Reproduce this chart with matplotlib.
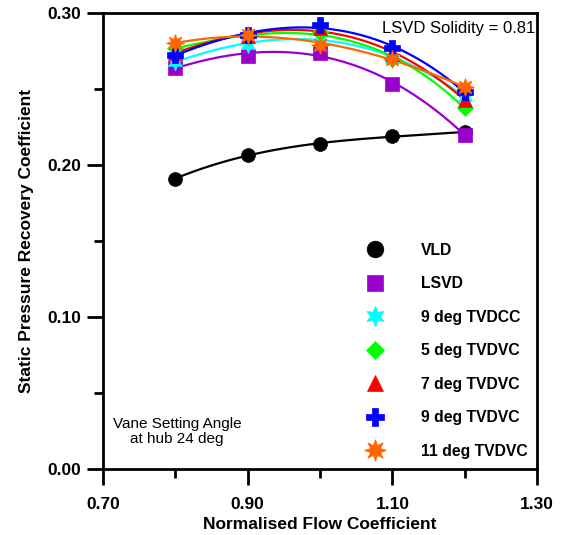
import numpy as np
import matplotlib.pyplot as plt
from matplotlib.ticker import FixedLocator

plt.rcParams["font.family"] = ["Liberation Sans", "DejaVu Sans"]

flow = [0.8, 0.9, 1.0, 1.1, 1.2]

vld = [0.191, 0.2066, 0.2138, 0.219, 0.2217]
lsvd = [0.264, 0.272, 0.274, 0.253, 0.220]
tvdcc_9 = [0.268, 0.279, 0.284, 0.270, 0.245]
tvdvc_5 = [0.277, 0.284, 0.2875, 0.270, 0.2375]
tvdvc_7 = [0.274, 0.285, 0.290, 0.273, 0.243]
tvdvc_9 = [0.2724, 0.2855, 0.292, 0.277, 0.248]
tvdvc_11 = [0.280, 0.2855, 0.279, 0.270, 0.251]

labels = ["VLD", "LSVD", "9 deg TVDCC", "5 deg TVDVC",
          "7 deg TVDVC", "9 deg TVDVC", "11 deg TVDVC"]

x_major = [0.70, 0.90, 1.10, 1.30]
x_minor = [0.80, 1.00, 1.20]
y_major = [0.00, 0.10, 0.20, 0.30]
y_minor = [0.05, 0.15, 0.25]

SERIES = [
    (vld, "black", "o", 10),
    (lsvd, "#9900cc", "s", 10),
    (tvdcc_9, "#00ffff", (6, 1, 0), 12),
    (tvdvc_5, "#00ff00", "D", 8),
    (tvdvc_7, "#ff0000", "^", 10),
    (tvdvc_9, "#0000ff", "P", 11),
    (tvdvc_11, "#ff6600", (8, 1, 0), 13),
]

fig = plt.figure(figsize=(5.63, 5.35), dpi=100)
ax = fig.add_axes([0.183, 0.1234, 0.771, 0.8523])

x = np.array(flow)
xs = np.linspace(0.8, 1.2, 200)
handles = []
for (vals, color, marker, ms), label in zip(SERIES, labels):
    # smooth fitted curve through the measured points
    coef = np.polyfit(x, vals, 3)
    ax.plot(xs, np.polyval(coef, xs), color=color, linewidth=1.6, zorder=2)
    h, = ax.plot(x, vals, linestyle="none", marker=marker, markersize=ms,
                 color=color, markeredgecolor=color, markeredgewidth=0.5,
                 zorder=3, label=label)
    handles.append(h)

ax.set_xlim(0.70, 1.30)
ax.set_ylim(0.0, 0.30)
ax.xaxis.set_major_locator(FixedLocator(x_major))
ax.xaxis.set_minor_locator(FixedLocator(x_minor))
ax.yaxis.set_major_locator(FixedLocator(y_major))
ax.yaxis.set_minor_locator(FixedLocator(y_minor))
ax.set_xticklabels([f"{v:.2f}" for v in x_major])
ax.set_yticklabels([f"{v:.2f}" for v in y_major])

for spine in ax.spines.values():
    spine.set_linewidth(2.0)
ax.tick_params(which="major", direction="out", length=11.5, width=2.0,
               labelsize=12.5)
ax.tick_params(which="minor", direction="out", length=6.5, width=2.0)
ax.tick_params(axis="x", which="major", pad=9)
ax.tick_params(axis="y", which="major", pad=4)
for lab in ax.get_xticklabels() + ax.get_yticklabels():
    lab.set_fontweight("bold")

ax.set_xlabel("Normalised Flow Coefficient", fontsize=12.5,
              fontweight="bold", labelpad=3)
ax.set_ylabel("Static Pressure Recovery Coefficient", fontsize=12.5,
              fontweight="bold", labelpad=10)

ax.text(0.995, 0.965, "LSVD Solidity = 0.81", transform=ax.transAxes,
        ha="right", va="center", fontsize=12)
ax.text(0.17, 0.082, "Vane Setting Angle\nat hub 24 deg",
        transform=ax.transAxes, ha="center", va="center", fontsize=11,
        linespacing=1.1)

ax.legend(handles=handles, loc="lower left", bbox_to_anchor=(0.575, -0.005),
          frameon=False, prop={"weight": "bold", "size": 11.3},
          markerscale=1.2, handlelength=1.2, handletextpad=2.35,
          labelspacing=1.18, borderpad=0.3)

fig.savefig("out.png", dpi=100)
